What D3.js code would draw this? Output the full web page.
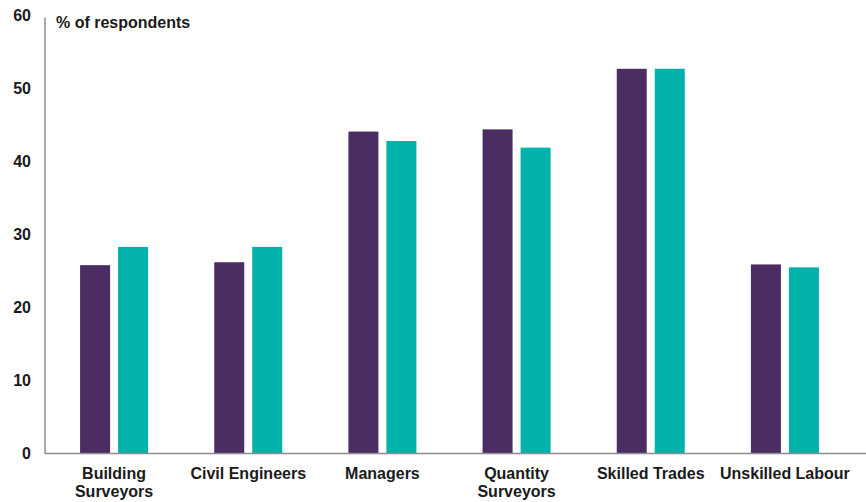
<!DOCTYPE html>
<html>
<head>
<meta charset="utf-8">
<script src="https://cdn.jsdelivr.net/npm/d3@7"></script>
<style>
  html, body { margin: 0; padding: 0; background: #fff; }
  svg { display: block; }
  text { font-family: "Liberation Sans", Arial, sans-serif; font-weight: bold; fill: #1a1a1a; }
</style>
</head>
<body>
<svg id="chart" width="866" height="502"></svg>
<script>
// Occupations surveyed (two-line labels split on "\n")
const categories = [
  "Building\nSurveyors",
  "Civil Engineers",
  "Managers",
  "Quantity\nSurveyors",
  "Skilled Trades",
  "Unskilled Labour"
];
// % of respondents, two survey waves
const seriesA = [25.8, 26.2, 44.1, 44.4, 52.7, 25.9];
const seriesB = [28.3, 28.3, 42.8, 41.9, 52.7, 25.5];
const yTicks = [0, 10, 20, 30, 40, 50, 60];

const colors = ["#4b2d64", "#00b2a9"];

const svg = d3.select("#chart");
const axisX = 45, baseY = 453.5, topY = 15.5;

const x = d3.scaleBand().domain(categories).range([47, 852]).paddingInner(0).paddingOuter(0);
const y = d3.scaleLinear().domain([0, 60]).range([baseY, topY]);

const barW = 30, gap = 8;
const series = [seriesA, seriesB];

series.forEach((vals, si) => {
  svg.append("g")
    .selectAll("rect")
    .data(categories.map((c, i) => ({ c, v: vals[i] })))
    .join("rect")
    .attr("x", d => x(d.c) + x.bandwidth() / 2 + (si === 0 ? -(gap / 2 + barW) : gap / 2))
    .attr("y", d => y(d.v))
    .attr("width", barW)
    .attr("height", d => baseY - y(d.v))
    .attr("fill", colors[si]);
});

// Y axis: line with labels, no tick marks
const yAxis = d3.axisLeft(y).tickValues(yTicks).tickSize(0).tickPadding(14).tickFormat(d3.format("d"));
const gy = svg.append("g").attr("transform", `translate(${axisX},0)`).call(yAxis);
gy.select(".domain").attr("stroke", "#8c8c8c").attr("stroke-width", 1.5).attr("d", `M0,${topY + 2}V${baseY}`);
gy.selectAll("text").attr("font-size", 16).attr("fill", "#1a1a1a")
  .style("font-family", "'Liberation Sans', Arial, sans-serif").style("font-weight", "bold");

// X axis baseline
svg.append("line")
  .attr("x1", axisX).attr("x2", 866)
  .attr("y1", baseY).attr("y2", baseY)
  .attr("stroke", "#8c8c8c").attr("stroke-width", 1.5);

// Category labels
const gx = svg.append("g");
categories.forEach(c => {
  const lines = c.split("\n");
  const t = gx.append("text")
    .attr("x", x(c) + x.bandwidth() / 2)
    .attr("y", 479)
    .attr("text-anchor", "middle")
    .attr("font-size", 16);
  lines.forEach((ln, i) => {
    t.append("tspan").attr("x", x(c) + x.bandwidth() / 2).attr("dy", i === 0 ? 0 : 18).text(ln);
  });
});

// Unit label
svg.append("text")
  .attr("x", 56).attr("y", 27.5)
  .attr("font-size", 16)
  .text("% of respondents");
</script>
</body>
</html>
